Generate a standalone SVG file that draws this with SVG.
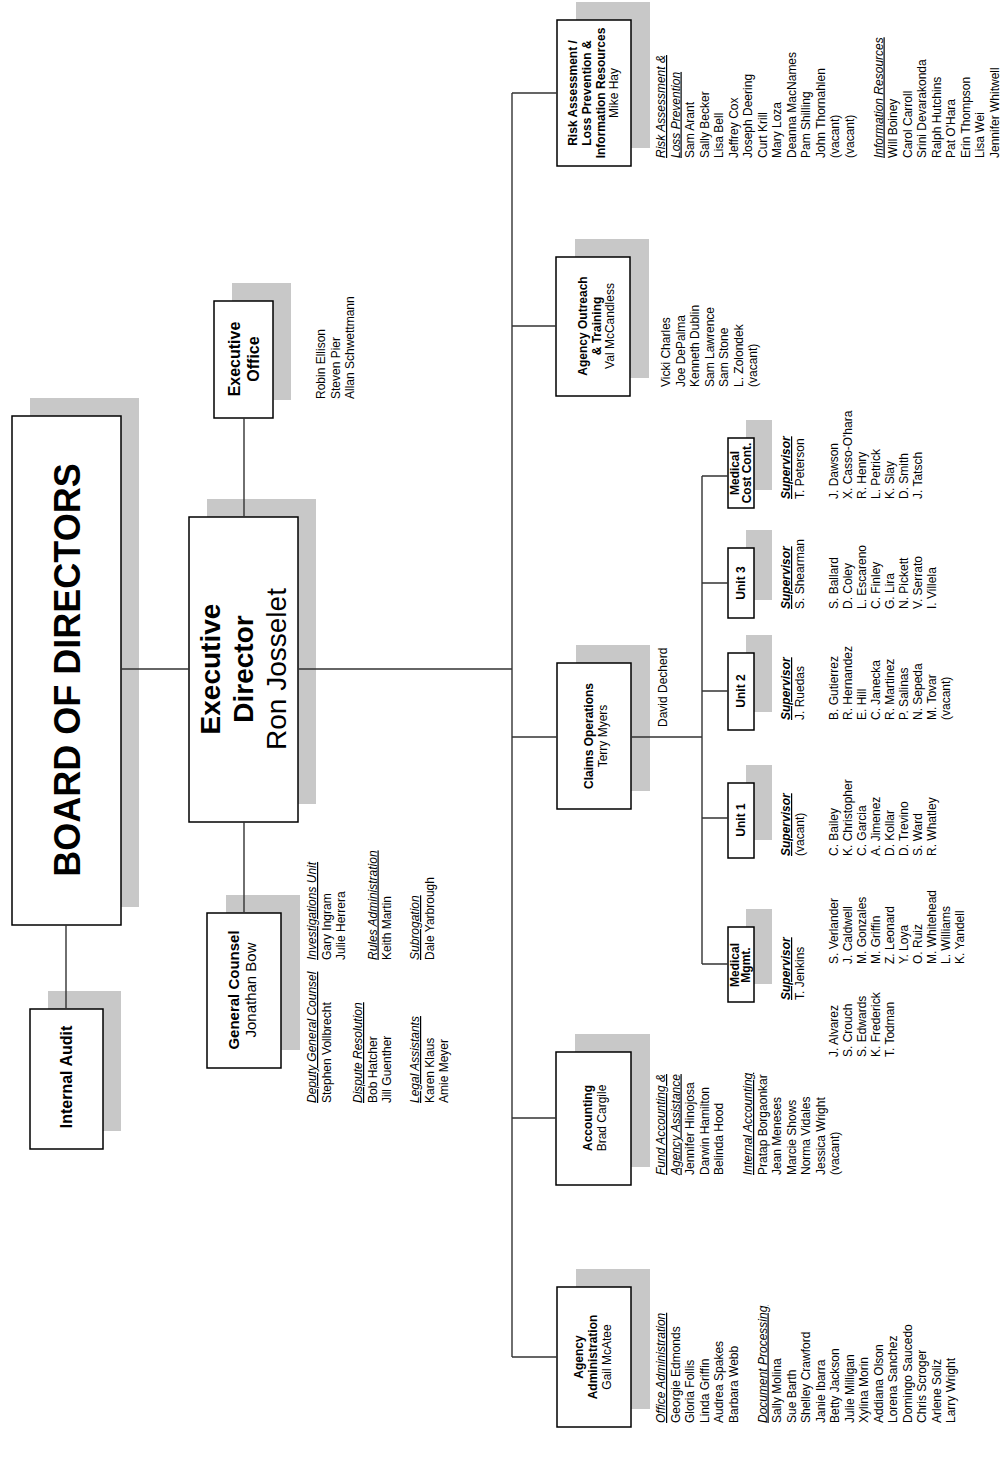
<svg xmlns="http://www.w3.org/2000/svg" width="1003" height="1480" viewBox="0 0 1003 1480">
<style>
text{font-family:"Liberation Sans",Arial,Helvetica,sans-serif;fill:#000;font-size:12px}
.box{fill:#fff;stroke:#000;stroke-width:1.5}
.sh{fill:#c8c8c8}
.ln{stroke:#333;stroke-width:1.4;fill:none}
.b{font-weight:bold}
.c{text-anchor:middle}
.hd{font-style:italic;text-decoration:underline}
.sup{font-style:italic;font-weight:bold;text-decoration:underline}
</style>
<rect width="1003" height="1480" fill="#fff"/>

<!-- Board of Directors -->
<g id="board">
<rect class="sh" x="30" y="398" width="109" height="509"/>
<rect class="box" x="12" y="416" width="109" height="509"/>
<text class="b c" transform="rotate(-90)" x="-670" y="80" style="font-size:36px">BOARD OF DIRECTORS</text>
</g>

<!-- Internal Audit -->
<g id="internal-audit">
<rect class="sh" x="48" y="991" width="73" height="140"/>
<rect class="box" x="30" y="1009" width="73" height="140"/>
<text class="b c" transform="rotate(-90)" x="-1077" y="72" style="font-size:16px">Internal Audit</text>
</g>

<!-- Executive Director -->
<g id="executive-director">
<rect class="sh" x="207" y="499" width="109" height="305"/>
<rect class="box" x="189" y="517" width="109" height="305"/>
<g transform="rotate(-90)" class="c" style="font-size:28px">
<text class="b" x="-669" y="220" style="font-size:28px">Executive</text>
<text class="b" x="-669" y="253" style="font-size:28px">Director</text>
<text x="-669" y="286" style="font-size:28px">Ron Josselet</text>
</g>
</g>

<!-- Executive Office -->
<g id="executive-office">
<rect class="sh" x="232" y="283" width="59" height="117"/>
<rect class="box" x="214" y="301" width="59" height="117"/>
<g transform="rotate(-90)">
<text class="b c" x="-359" y="240" style="font-size:16px">Executive</text>
<text class="b c" x="-359" y="259" style="font-size:16px">Office</text>
<text x="-399" y="325">Robin Ellison</text>
<text x="-399" y="339.5">Steven Pier</text>
<text x="-399" y="354">Allan Schwettmann</text>
</g>
</g>

<!-- General Counsel -->
<g id="general-counsel">
<rect class="sh" x="226" y="895" width="74" height="155"/>
<rect class="box" x="207" y="913" width="74" height="155"/>
<g transform="rotate(-90)">
<text class="b c" x="-990" y="239" style="font-size:15px">General Counsel</text>
<text class="c" x="-990" y="256" style="font-size:15px">Jonathan Bow</text>
<text class="hd" x="-1103" y="316">Deputy General Counsel</text>
<text x="-1103" y="330.5">Stephen Vollbrecht</text>
<text class="hd" x="-1103" y="362">Dispute Resolution</text>
<text x="-1103" y="376.5">Bob Hatcher</text>
<text x="-1103" y="391">Jill Guenther</text>
<text class="hd" x="-1103" y="419">Legal Assistants</text>
<text x="-1103" y="433.5">Karen Klaus</text>
<text x="-1103" y="448">Amie Meyer</text>
<text class="hd" x="-960" y="316">Investigations Unit</text>
<text x="-960" y="330.5">Gary Ingram</text>
<text x="-960" y="345">Julie Herrera</text>
<text class="hd" x="-960" y="376.5">Rules Administration</text>
<text x="-960" y="391">Keith Martin</text>
<text class="hd" x="-960" y="419">Subrogation</text>
<text x="-960" y="433.5">Dale Yarbrough</text>
</g>
</g>

<!-- Risk Assessment / Loss Prevention & Information Resources -->
<g id="risk-assessment">
<rect class="sh" x="576" y="2" width="74" height="146"/>
<rect class="box" x="557" y="20" width="74" height="146"/>
<g transform="rotate(-90)">
<text class="b c" x="-93" y="577">Risk Assessment /</text>
<text class="b c" x="-93" y="591">Loss Prevention &amp;</text>
<text class="b c" x="-93" y="604.5">Information Resources</text>
<text class="c" x="-93" y="618">Mike Hay</text>
<text class="hd" x="-158" y="665">Risk Assessment &amp;</text>
<text class="hd" x="-158" y="679.5">Loss Prevention</text>
<text x="-158" y="694">Sam Arant</text>
<text x="-158" y="708.5">Sally Becker</text>
<text x="-158" y="723">Lisa Bell</text>
<text x="-158" y="737.5">Jeffrey Cox</text>
<text x="-158" y="752">Joseph Deering</text>
<text x="-158" y="766.5">Curt Krill</text>
<text x="-158" y="781">Mary Loza</text>
<text x="-158" y="795.5">Deanna MacNames</text>
<text x="-158" y="810">Pam Shilling</text>
<text x="-158" y="824.5">John Thornahlen</text>
<text x="-158" y="839">(vacant)</text>
<text x="-158" y="853.5">(vacant)</text>
<text class="hd" x="-158" y="882.5">Information Resources</text>
<text x="-158" y="897">Will Boiney</text>
<text x="-158" y="911.5">Carol Carroll</text>
<text x="-158" y="926">Srini Devarakonda</text>
<text x="-158" y="940.5">Ralph Hutchins</text>
<text x="-158" y="955">Pat O'Hara</text>
<text x="-158" y="969.5">Erin Thompson</text>
<text x="-158" y="984">Lisa Wei</text>
<text x="-158" y="998.5">Jennifer Whitwell</text>
</g>
</g>

<!-- Agency Outreach & Training -->
<g id="agency-outreach">
<rect class="sh" x="575" y="239" width="74" height="139"/>
<rect class="box" x="556" y="257" width="74" height="139"/>
<g transform="rotate(-90)">
<text class="b c" x="-326" y="587">Agency Outreach</text>
<text class="b c" x="-326" y="600.5">&amp; Training</text>
<text class="c" x="-326" y="614">Val McCandless</text>
<text x="-387" y="670">Vicki Charles</text>
<text x="-387" y="684.5">Joe DePalma</text>
<text x="-387" y="699">Kenneth Dublin</text>
<text x="-387" y="713.5">Sam Lawrence</text>
<text x="-387" y="728">Sam Stone</text>
<text x="-387" y="742.5">L. Zolondek</text>
<text x="-387" y="757">(vacant)</text>
</g>
</g>

<!-- Claims Operations -->
<g id="claims-operations">
<rect class="sh" x="576" y="645" width="74" height="146"/>
<rect class="box" x="557" y="663" width="74" height="146"/>
<g transform="rotate(-90)">
<text class="b c" x="-736" y="593">Claims Operations</text>
<text class="c" x="-736" y="606.5">Terry Myers</text>
<text x="-727" y="667">David Decherd</text>
</g>
</g>

<!-- Medical Cost Containment -->
<g id="medical-cost-cont">
<rect class="sh" x="746" y="420" width="26" height="70"/>
<rect class="box" x="728" y="438" width="26" height="70"/>
<g transform="rotate(-90)">
<text class="b c" x="-473" y="739">Medical</text>
<text class="b c" x="-473" y="751">Cost Cont.</text>
<text class="sup" x="-499" y="790">Supervisor</text>
<text x="-499" y="804">T. Peterson</text>
<text x="-499" y="838">J. Dawson</text>
<text x="-499" y="852">X. Casso-O'hara</text>
<text x="-499" y="866">R. Henry</text>
<text x="-499" y="880">L. Petrick</text>
<text x="-499" y="894">K. Slay</text>
<text x="-499" y="908">D. Smith</text>
<text x="-499" y="922">J. Tatsch</text>
</g>
</g>

<!-- Unit 3 -->
<g id="unit-3">
<rect class="sh" x="746" y="530" width="26" height="70"/>
<rect class="box" x="728" y="548" width="26" height="70"/>
<g transform="rotate(-90)">
<text class="b c" x="-583" y="745">Unit 3</text>
<text class="sup" x="-609" y="790">Supervisor</text>
<text x="-609" y="804">S. Shearman</text>
<text x="-609" y="838">S. Ballard</text>
<text x="-609" y="852">D. Coley</text>
<text x="-609" y="866">L. Escareno</text>
<text x="-609" y="880">C. Finley</text>
<text x="-609" y="894">G. Lira</text>
<text x="-609" y="908">N. Pickett</text>
<text x="-609" y="922">V. Serrato</text>
<text x="-609" y="936">I. Villela</text>
</g>
</g>

<!-- Unit 2 -->
<g id="unit-2">
<rect class="sh" x="746" y="635" width="26" height="77"/>
<rect class="box" x="728" y="653" width="26" height="77"/>
<g transform="rotate(-90)">
<text class="b c" x="-691" y="745">Unit 2</text>
<text class="sup" x="-720" y="790">Supervisor</text>
<text x="-720" y="804">J. Ruedas</text>
<text x="-720" y="838">B. Gutierrez</text>
<text x="-720" y="852">R. Hernandez</text>
<text x="-720" y="866">E. Hill</text>
<text x="-720" y="880">C. Janecka</text>
<text x="-720" y="894">R. Martinez</text>
<text x="-720" y="908">P. Salinas</text>
<text x="-720" y="922">N. Sepeda</text>
<text x="-720" y="936">M. Tovar</text>
<text x="-720" y="950">(vacant)</text>
</g>
</g>

<!-- Unit 1 -->
<g id="unit-1">
<rect class="sh" x="746" y="765" width="26" height="75"/>
<rect class="box" x="728" y="783" width="26" height="75"/>
<g transform="rotate(-90)">
<text class="b c" x="-820" y="745">Unit 1</text>
<text class="sup" x="-856" y="790">Supervisor</text>
<text x="-856" y="804">(vacant)</text>
<text x="-856" y="838">C. Bailey</text>
<text x="-856" y="852">K. Christopher</text>
<text x="-856" y="866">C. Garcia</text>
<text x="-856" y="880">A. Jimenez</text>
<text x="-856" y="894">D. Kollar</text>
<text x="-856" y="908">D. Trevino</text>
<text x="-856" y="922">S. Ward</text>
<text x="-856" y="936">R. Whatley</text>
</g>
</g>

<!-- Medical Management -->
<g id="medical-mgmt">
<rect class="sh" x="746" y="909" width="26" height="75"/>
<rect class="box" x="728" y="927" width="26" height="75"/>
<g transform="rotate(-90)">
<text class="b c" x="-965" y="739">Medical</text>
<text class="b c" x="-965" y="750">Mgmt.</text>
<text class="sup" x="-1000" y="790">Supervisor</text>
<text x="-1000" y="804">T. Jenkins</text>
<text x="-1057" y="838">J. Alvarez</text>
<text x="-1057" y="852">S. Crouch</text>
<text x="-1057" y="866">S. Edwards</text>
<text x="-1057" y="880">K. Frederick</text>
<text x="-1057" y="894">T. Todman</text>
<text x="-964" y="838">S. Verlander</text>
<text x="-964" y="852">J. Caldwell</text>
<text x="-964" y="866">M. Gonzales</text>
<text x="-964" y="880">M. Griffin</text>
<text x="-964" y="894">Z. Leonard</text>
<text x="-964" y="908">Y. Loya</text>
<text x="-964" y="922">O. Ruiz</text>
<text x="-964" y="936">M. Whitehead</text>
<text x="-964" y="950">L. Williams</text>
<text x="-964" y="964">K. Yandell</text>
</g>
</g>

<!-- Accounting -->
<g id="accounting">
<rect class="sh" x="575" y="1034" width="75" height="133"/>
<rect class="box" x="556" y="1052" width="75" height="133"/>
<g transform="rotate(-90)">
<text class="b c" x="-1118" y="592">Accounting</text>
<text class="c" x="-1118" y="605.5">Brad Cargile</text>
<text class="hd" x="-1175" y="665">Fund Accounting &amp;</text>
<text class="hd" x="-1175" y="679.5">Agency Assistance</text>
<text x="-1175" y="694">Jennifer Hinojosa</text>
<text x="-1175" y="708.5">Darwin Hamilton</text>
<text x="-1175" y="723">Belinda Hood</text>
<text class="hd" x="-1175" y="752">Internal Accounting</text>
<text x="-1175" y="766.5">Pratap Borgaonkar</text>
<text x="-1175" y="781">Jean Meneses</text>
<text x="-1175" y="795.5">Marcie Shows</text>
<text x="-1175" y="810">Norma Vidales</text>
<text x="-1175" y="824.5">Jessica Wright</text>
<text x="-1175" y="839">(vacant)</text>
</g>
</g>

<!-- Agency Administration -->
<g id="agency-administration">
<rect class="sh" x="576" y="1269" width="74" height="140"/>
<rect class="box" x="557" y="1287" width="74" height="140"/>
<g transform="rotate(-90)">
<text class="b c" x="-1357" y="583">Agency</text>
<text class="b c" x="-1357" y="597">Administration</text>
<text class="c" x="-1357" y="610.5">Gail McAtee</text>
<text class="hd" x="-1423" y="665">Office Administration</text>
<text x="-1423" y="679.5">Georgie Edmonds</text>
<text x="-1423" y="694">Gloria Follis</text>
<text x="-1423" y="708.5">Linda Griffin</text>
<text x="-1423" y="723">Audrea Spakes</text>
<text x="-1423" y="737.5">Barbara Webb</text>
<text class="hd" x="-1423" y="766.5">Document Processing</text>
<text x="-1423" y="781">Sally Molina</text>
<text x="-1423" y="795.5">Sue Barth</text>
<text x="-1423" y="810">Shelley Crawford</text>
<text x="-1423" y="824.5">Janie Ibarra</text>
<text x="-1423" y="839">Betty Jackson</text>
<text x="-1423" y="853.5">Julie Milligan</text>
<text x="-1423" y="868">Xylina Morin</text>
<text x="-1423" y="882.5">Addiana Olson</text>
<text x="-1423" y="897">Lorena Sanchez</text>
<text x="-1423" y="911.5">Domingo Saucedo</text>
<text x="-1423" y="926">Chris Scroger</text>
<text x="-1423" y="940.5">Arlene Soliz</text>
<text x="-1423" y="955">Larry Wright</text>
</g>
</g>

<!-- Reporting lines -->
<g id="connectors" class="ln">
<path d="M66 925V1009"/>
<path d="M121 669H189"/>
<path d="M244 418V517"/>
<path d="M244 822V913"/>
<path d="M298 669H512"/>
<path d="M512 93V1357"/>
<path d="M512 93H557M512 326H556M512 737H557M512 1118H556M512 1357H557"/>
<path d="M631 737H702M702 476V964M702 476H728M702 583H728M702 691H728M702 818H728M702 964H728"/>
</g>
</svg>
